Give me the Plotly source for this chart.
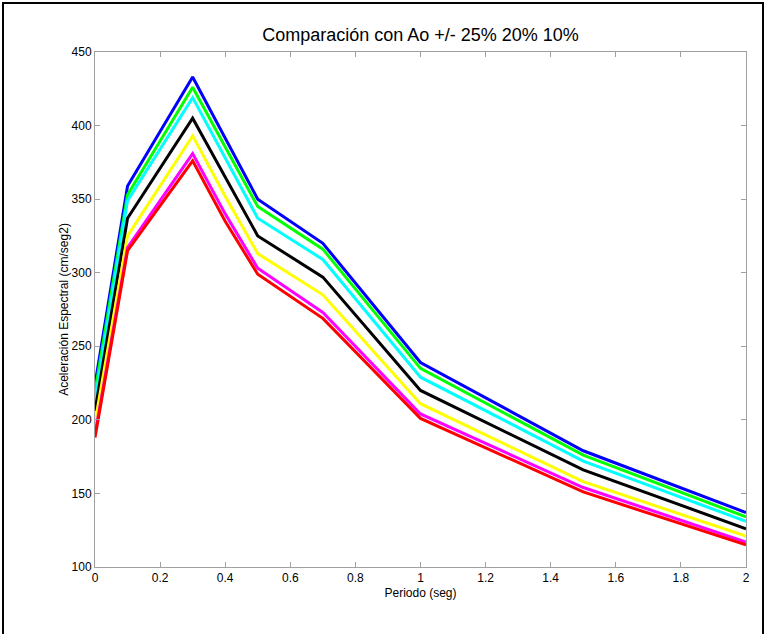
import plotly.graph_objects as go

periodo = [0, 0.1, 0.3, 0.4, 0.5, 0.7, 1.0, 1.5, 2.0]

ao_mas25 = [224, 359, 433, 391, 350, 320, 239, 179, 137]
ao_mas20 = [219, 353, 426, 385, 345, 316, 235, 176, 134]
ao_mas10 = [213, 349, 419, 378, 337, 309, 229, 172, 131]
ao_base = [206, 337, 405, 365, 325, 297, 220, 166, 126]
ao_menos10 = [198, 325, 393, 352, 313, 285, 211, 158, 121]
ao_menos20 = [190, 317, 381, 340, 303, 273, 204, 154, 117]
ao_menos25 = [188, 315, 376, 335, 299, 269, 201, 151, 115]

series = [
    ("+25%", ao_mas25, "#0000ff"),
    ("+20%", ao_mas20, "#00ff00"),
    ("+10%", ao_mas10, "#00ffff"),
    ("Ao", ao_base, "#000000"),
    ("-10%", ao_menos10, "#ffff00"),
    ("-20%", ao_menos20, "#ff00ff"),
    ("-25%", ao_menos25, "#ff0000"),
]

fig = go.Figure()
for name, vals, color in series:
    fig.add_trace(go.Scatter(x=periodo, y=vals, mode="lines", name=name,
                             line=dict(color=color, width=3)))

axis_common = dict(
    showgrid=False, zeroline=False, showline=True, linecolor="#a0a0a0",
    linewidth=1, mirror="ticks", ticks="inside", ticklen=5, tickcolor="#a0a0a0",
    tickfont=dict(family="Liberation Sans, Arial", size=12, color="#000000"),
)

fig.update_layout(
    width=766, height=634,
    margin=dict(l=95, r=20, t=52, b=67),
    paper_bgcolor="white", plot_bgcolor="white",
    showlegend=False,
    title=dict(text="Comparación con Ao +/- 25% 20% 10%",
               font=dict(family="Liberation Sans, Arial", size=18, color="#000000"),
               x=(95 + 746) / 2 / 766, xanchor="center", y=1 - 35 / 634, yanchor="middle"),
    xaxis=dict(range=[0, 2], tickvals=[0, 0.2, 0.4, 0.6, 0.8, 1, 1.2, 1.4, 1.6, 1.8, 2],
               ticktext=["0", "0.2", "0.4", "0.6", "0.8", "1", "1.2", "1.4", "1.6", "1.8", "2"],
               title=dict(text="Periodo (seg)", standoff=4,
                          font=dict(family="Liberation Sans, Arial", size=12, color="#000000")),
               **axis_common),
    yaxis=dict(range=[100, 450], tickvals=[100, 150, 200, 250, 300, 350, 400, 450],
               title=dict(text="Aceleración Espectral (cm/seg2)", standoff=0,
                          font=dict(family="Liberation Sans, Arial", size=12, color="#000000")),
               **axis_common),
)

fig.add_shape(type="rect", xref="paper", yref="paper",
              x0=(3 - 95) / 651, x1=(763 - 95) / 651,
              y0=(567 - 640) / 515, y1=(567 - 3) / 515,
              line=dict(color="#000000", width=2), fillcolor="rgba(0,0,0,0)", layer="above")

fig.write_html("out.html", config={"displayModeBar": False},
               post_script="document.body.style.margin='0px';document.body.style.overflow='hidden';")
